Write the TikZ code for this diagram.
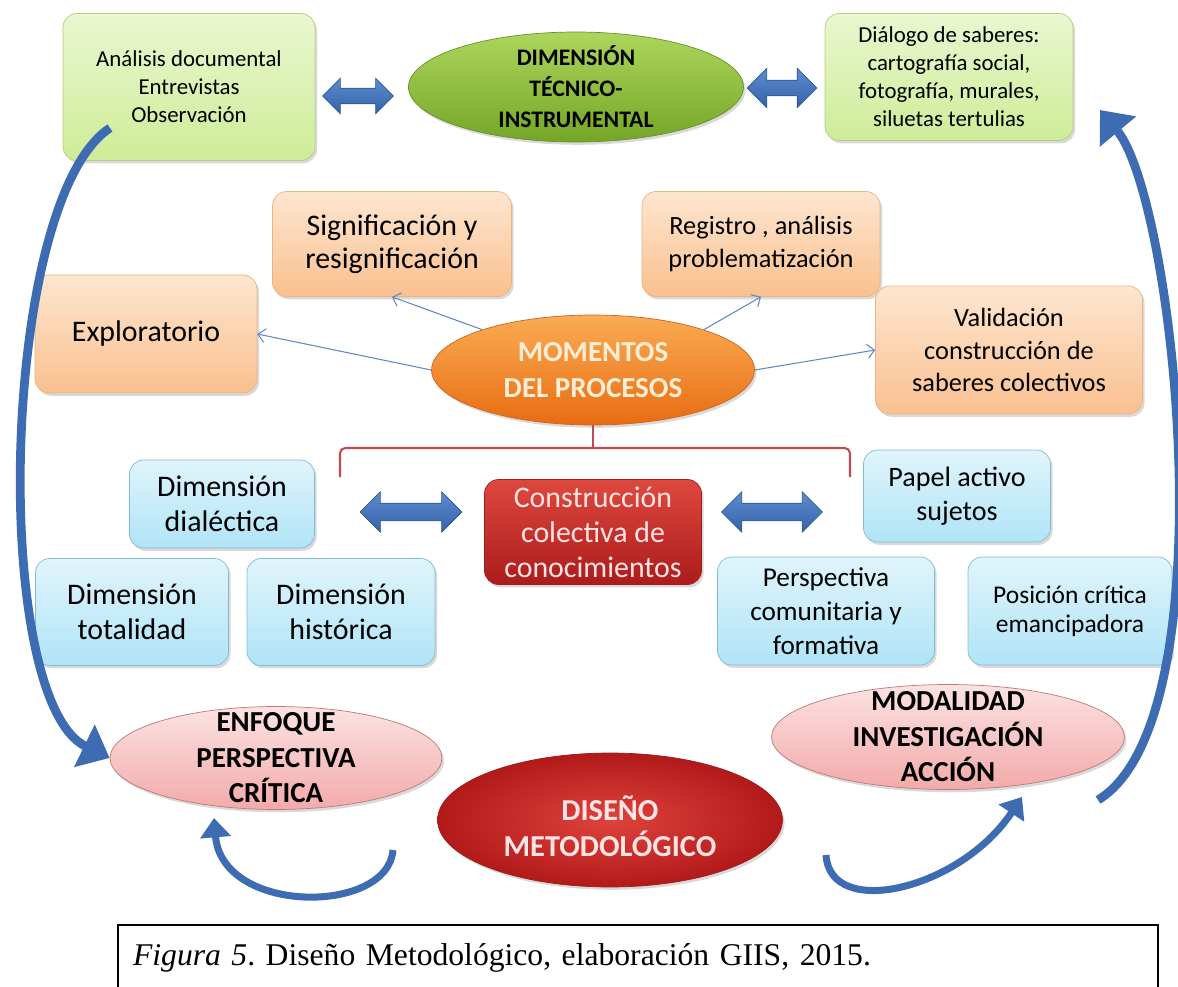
\documentclass[tikz,border=0pt]{standalone}
\usepackage{fontspec}
\setmainfont{Carlito}
\newfontfamily\capfont{Liberation Serif}
\usepackage{tikz}
\usetikzlibrary{arrows,arrows.meta,shapes,shadows}
\usepackage{xcolor}
\definecolor{greentop}{RGB}{234,247,208}
\definecolor{greenbot}{RGB}{206,236,152}
\definecolor{greenline}{RGB}{178,206,128}
\definecolor{ellgreentop}{RGB}{172,214,92}
\definecolor{ellgreenbot}{RGB}{116,166,38}
\definecolor{ellgreenline}{RGB}{104,144,44}
\definecolor{orangetop}{RGB}{253,230,208}
\definecolor{orangebot}{RGB}{250,192,143}
\definecolor{orangeline}{RGB}{236,178,128}
\definecolor{ellorangetop}{RGB}{250,172,84}
\definecolor{ellorangebot}{RGB}{232,108,18}
\definecolor{ellorangeline}{RGB}{208,98,28}
\definecolor{bluetop}{RGB}{224,244,251}
\definecolor{bluebot}{RGB}{176,228,247}
\definecolor{blueline}{RGB}{128,188,214}
\definecolor{redtop}{RGB}{222,72,62}
\definecolor{redbot}{RGB}{172,28,28}
\definecolor{redline}{RGB}{158,30,30}
\definecolor{pinktop}{RGB}{252,226,226}
\definecolor{pinkbot}{RGB}{243,170,170}
\definecolor{pinkline}{RGB}{192,118,118}
\definecolor{disinner}{RGB}{222,66,60}
\definecolor{disouter}{RGB}{178,26,26}
\definecolor{arrowtop}{RGB}{92,140,206}
\definecolor{arrowbot}{RGB}{52,98,168}
\definecolor{arrowline}{RGB}{44,84,148}
\definecolor{arrowblue}{RGB}{62,108,178}
\definecolor{thinblue}{RGB}{96,136,196}
\definecolor{bracketred}{RGB}{190,74,84}
\definecolor{momtext}{RGB}{255,238,214}
\definecolor{context}{RGB}{255,228,228}

\begin{document}
\frenchspacing
\begin{tikzpicture}[x=0.02cm,y=-0.02cm,>=stealth,thick]
\tikzstyle{box}=[rectangle,rounded corners=8pt,thin,align=center,inner sep=2pt,drop shadow={shadow xshift=1.2pt,shadow yshift=-1.6pt,opacity=.3}]
\tikzstyle{greenbox}=[box,draw=greenline,top color=greentop,bottom color=greenbot,font=\fontsize{13}{15.9}\selectfont]
\tikzstyle{orangebox}=[box,draw=orangeline,top color=orangetop,bottom color=orangebot,font=\fontsize{15}{18.3}\selectfont]
\tikzstyle{bluebox}=[box,draw=blueline,top color=bluetop,bottom color=bluebot,font=\fontsize{15.5}{19.5}\selectfont]
\tikzstyle{redbox}=[box,draw=redline,top color=redtop,bottom color=redbot,text=context,font=\fontsize{17}{20}\selectfont]
\tikzstyle{ell}=[ellipse,thin,inner sep=0pt,drop shadow={shadow xshift=1.2pt,shadow yshift=-1.6pt,opacity=.3}]
\tikzstyle{greenell}=[ell,draw=ellgreenline,top color=ellgreentop,bottom color=ellgreenbot]
\tikzstyle{orangeell}=[ell,draw=ellorangeline,top color=ellorangetop,bottom color=ellorangebot]
\tikzstyle{pinkell}=[ell,draw=pinkline,top color=pinktop,bottom color=pinkbot]
\tikzstyle{redell}=[ell,draw=redline,inner color=disinner,outer color=disouter]
\tikzstyle{elltext}=[align=center,inner sep=0pt,font=\bfseries\fontsize{16.5}{20.2}\selectfont]
\tikzstyle{dblarrow}=[double arrow,draw=arrowline,thin,top color=arrowtop,bottom color=arrowbot,inner xsep=0pt]
\tikzstyle{thinarrow}=[draw=thinblue,semithick,-{Straight Barb[length=4pt,width=8pt]}]
\tikzstyle{bigarrow}=[draw=arrowblue,line width=5pt,-{Triangle[length=16pt,width=26pt]}]
\tikzstyle{smallarrow}=[draw=arrowblue,line width=4pt,-{Triangle[length=11pt,width=17pt]}]
\tikzstyle{bracket}=[draw=bracketred,line width=1.2pt,rounded corners=3pt]
\tikzstyle{capbox}=[draw,line width=0.9pt,minimum width=20.8cm,minimum height=1.3cm,text width=20.2cm,align=left,font=\capfont\fontsize{18}{21}\selectfont]
\useasboundingbox(0,0)rectangle(1178,987);
\node(gl)at(189,87)[greenbox,minimum width=5.04cm,minimum height=2.94cm]{Análisis documental\\Entrevistas\\Observación};
\node(dim)at(576,87)[greenell,minimum width=6.7cm,minimum height=2.2cm]{};
\node at(dim)[elltext,font=\bfseries\fontsize{13.5}{17.6}\selectfont]{DIMENSIÓN\\TÉCNICO-\\INSTRUMENTAL};
\node(dr)at(949,77)[greenbox,minimum width=4.96cm,minimum height=2.54cm]{Diálogo de saberes:\\cartografía social,\\fotografía, murales,\\siluetas tertulias};
\node(a1)at(358,96)[dblarrow,minimum height=1.42cm,inner ysep=0.15cm,double arrow head extend=0.2cm]{};
\node(a2)at(782,88)[dblarrow,minimum height=1.4cm,inner ysep=0.15cm,double arrow head extend=0.24cm]{};
\node(sig)at(392,244)[orangebox,minimum width=4.78cm,minimum height=2.1cm,font=\fontsize{17}{18.8}\selectfont]{Significación y\\resignificación};
\node(reg)at(761,244)[orangebox,minimum width=4.76cm,minimum height=2.1cm]{Registro , análisis\\problematización};
\node(exp)at(146,334)[orangebox,minimum width=4.44cm,minimum height=2.36cm,font=\fontsize{17}{20}\selectfont]{Exploratorio};
\node(val)at(1009,350)[orangebox,minimum width=5.34cm,minimum height=2.56cm]{Validación\\construcción de\\saberes colectivos};
\node(mom)at(593,370)[orangeell,minimum width=6.46cm,minimum height=2.2cm]{};
\node at(mom)[elltext,text=momtext]{MOMENTOS\\DEL PROCESOS};
\node(con)at(593,532)[redbox,minimum width=4.34cm,minimum height=2.1cm]{Construcción\\colectiva de\\conocimientos};
\node(dd)at(222,504)[bluebox,minimum width=3.7cm,minimum height=1.76cm,font=\fontsize{17}{20}\selectfont]{Dimensión\\dialéctica};
\node(dt)at(132,612)[bluebox,minimum width=3.86cm,minimum height=2.14cm,font=\fontsize{17}{20}\selectfont]{Dimensión\\totalidad};
\node(dh)at(341,612)[bluebox,minimum width=3.76cm,minimum height=2.14cm,font=\fontsize{17}{20}\selectfont]{Dimensión\\histórica};
\node(pa)at(957,496)[bluebox,minimum width=3.74cm,minimum height=1.84cm,font=\fontsize{16}{19.5}\selectfont]{Papel activo\\sujetos};
\node(pc)at(826,611)[bluebox,minimum width=4.34cm,minimum height=2.16cm]{Perspectiva\\comunitaria y\\formativa};
\node(pcr)at(1070,611)[bluebox,minimum width=4.08cm,minimum height=2.16cm,font=\fontsize{14.5}{16.5}\selectfont]{Posición crítica\\emancipadora};
\node(b1)at(411,512)[dblarrow,minimum height=2.04cm,inner ysep=0.17cm,double arrow head extend=0.23cm]{};
\node(b2)at(772,512)[dblarrow,minimum height=2.02cm,inner ysep=0.17cm,double arrow head extend=0.23cm]{};
\node(enf)at(276,758)[pinkell,minimum width=6.64cm,minimum height=2.06cm]{};
\node at(enf)[elltext]{ENFOQUE\\PERSPECTIVA\\CRÍTICA};
\node(mod)at(948,737)[pinkell,minimum width=7.06cm,minimum height=2.1cm]{};
\node at(mod)[elltext]{MODALIDAD\\INVESTIGACIÓN\\ACCIÓN};
\node(dis)at(610,820)[redell,minimum width=6.9cm,minimum height=2.68cm]{};
\node at(610,826)[elltext,text=context,font=\bfseries\fontsize{17.3}{20.2}\selectfont]{DISEÑO\\METODOLÓGICO};
\node(cap)at(638,957.5)[capbox]{\textit{Figura 5}. Diseño Metodológico, elaboración GIIS, 2015.};
\draw[thinarrow](mom.west)--(exp.east);
\draw[thinarrow](mom.160)--(sig.south);
\draw[thinarrow](mom.20)--(reg.south);
\draw[thinarrow](mom.east)--(val.west);
\coordinate(bl)at(340,477);
\coordinate(bm)at(593,448);
\coordinate(br)at(850,477);
\draw[bracket](bl)|-(bm)-|(br);
\draw[bracket](mom.south)--(bm);
\coordinate(t1)at(110,128);
\draw[bigarrow](t1)..controls(0,200)and(-10,700)..(enf.west);
\coordinate(t2)at(1098,800);
\coordinate(t3)at(1100,110);
\draw[bigarrow](t2)..controls(1230,720)and(1175,200)..(t3);
\coordinate(s1)at(393,850);
\coordinate(s2)at(214,818);
\draw[smallarrow](s1)..controls(388,915)and(222,915)..(s2);
\coordinate(s3)at(826,855);
\coordinate(s4)at(1022,797);
\draw[smallarrow](s3)..controls(830,920)and(960,890)..(s4);
\end{tikzpicture}
\end{document}
